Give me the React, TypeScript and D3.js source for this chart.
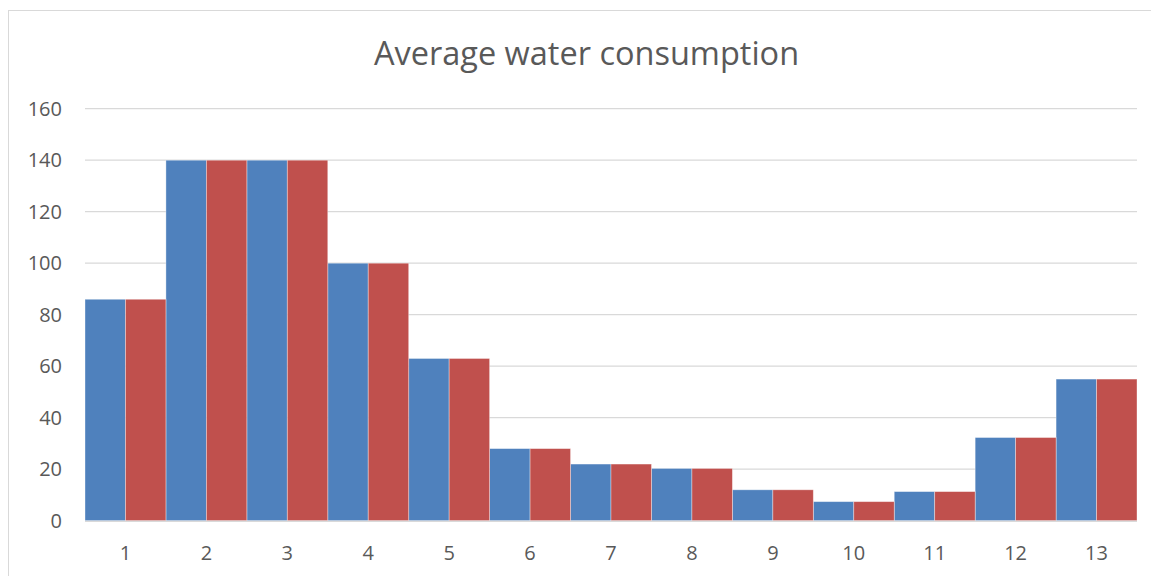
import React from "react";
import * as d3 from "d3";

const categories = ["1", "2", "3", "4", "5", "6", "7", "8", "9", "10", "11", "12", "13"];
const seriesA = [86, 140, 140, 100, 63, 28, 22, 20.3, 12, 7.4, 11.3, 32.3, 55];
const seriesB = [86, 140, 140, 100, 63, 28, 22, 20.3, 12, 7.4, 11.3, 32.3, 55];
const seriesNames = ["A", "B"];
const seriesColors = ["#4F81BD", "#C0504D"];
const yTicks = [0, 20, 40, 60, 80, 100, 120, 140, 160];
const title = "Average water consumption";

const W = 1151;
const H = 576;
const plot = { left: 85, right: 1137, top: 108.7, bottom: 520.7 };
const FONT = "'Open Sans', 'Liberation Sans', sans-serif";
const TEXT = "#595959";
const GRID = "#D9D9D9";

export default function App() {
  const x = d3.scaleBand<string>().domain(categories).range([plot.left, plot.right]).padding(0);
  const xs = d3.scaleBand<string>().domain(seriesNames).range([0, x.bandwidth()]).padding(0);
  const y = d3.scaleLinear().domain([0, 160]).range([plot.bottom, plot.top]);
  const data = [seriesA, seriesB];

  return (
    <div style={{ position: "fixed", left: 0, top: 0 }}>
      <svg width={W} height={H} style={{ display: "block", background: "#fff" }}>
        <rect x={8.5} y={10.5} width={1300} height={700} fill="#fff" stroke={GRID} strokeWidth={1} />
        <text x={586.5} y={65} textAnchor="middle" fontFamily={FONT} fontSize={32.5} fill={TEXT}>
          {title}
        </text>
        {yTicks.map((t) => (
          <g key={t}>
            {t !== 0 && (
              <line x1={plot.left} x2={plot.right} y1={y(t)} y2={y(t)} stroke={GRID} strokeWidth={1.3} />
            )}
            <text
              x={62}
              y={y(t)}
              dy="0.36em"
              textAnchor="end"
              fontFamily={FONT}
              fontSize={20}
              fill={TEXT}
            >
              {t}
            </text>
          </g>
        ))}
        {data.map((vals, si) =>
          vals.map((v, i) => (
            <rect
              key={`${si}-${i}`}
              x={(x(categories[i]) as number) + (xs(seriesNames[si]) as number)}
              y={y(v)}
              width={xs.bandwidth()}
              height={y(0) - y(v)}
              fill={seriesColors[si]}
              stroke="#ffffff"
              strokeOpacity={0.45}
              strokeWidth={0.8}
            />
          ))
        )}
        <line x1={plot.left} x2={plot.right} y1={y(0) + 0.7} y2={y(0) + 0.7} stroke={GRID} strokeWidth={1.3} />
        {categories.map((c) => (
          <text
            key={c}
            x={(x(c) as number) + x.bandwidth() / 2}
            y={560}
            textAnchor="middle"
            fontFamily={FONT}
            fontSize={20}
            fill={TEXT}
          >
            {c}
          </text>
        ))}
      </svg>
    </div>
  );
}
